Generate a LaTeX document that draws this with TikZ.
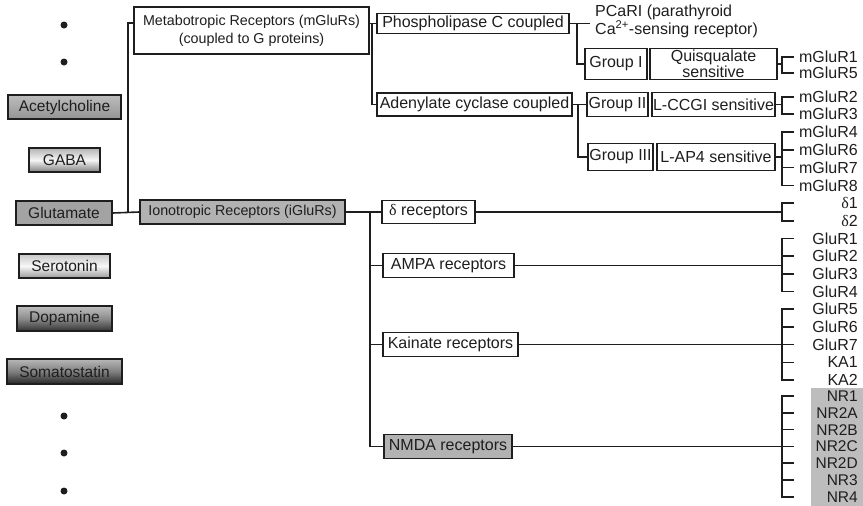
\documentclass[tikz,border=0pt]{standalone}
\usepackage{fontspec}
\setmainfont{Liberation Sans}
\newfontfamily\grk{Liberation Serif}
\definecolor{ink}{HTML}{1E1E1E}
\definecolor{boxgray}{HTML}{B2B2B2}
\definecolor{nrgray}{HTML}{BDBDBD}
\newcommand\rl[3]{\node[rlab] (#1) at (858,#2) {#3}; \coordinate (#1t) at (794,#2);}
\newcommand\rln[3]{\node[nrlab] (#1) at (858,#2) {#3}; \coordinate (#1t) at (794,#2);}
\begin{document}
\begin{tikzpicture}[x=1pt,y=-1pt,
  every node/.style={text=ink},
  conn/.style={draw=ink, line width=1.6pt},
  box/.style={draw=ink, line width=1.3pt, inner sep=0pt, fill=white, font=\fontsize{16}{16}\selectfont},
  nt/.style={box, font=\fontsize{15.5}{16}\selectfont},
  rlab/.style={anchor=east, inner sep=0pt, font=\fontsize{16}{16}\selectfont},
  nrlab/.style={anchor=east, inner sep=0pt, font=\fontsize{15.5}{16}\selectfont},
  dot/.style={circle, fill=ink, inner sep=0pt, minimum size=7pt},
]
\useasboundingbox (0,0) rectangle (863,506);
% dots
\node[dot] (d1) at (64,25) {};
\node[dot] (d2) at (64,62) {};
\node[dot] (d3) at (64,416) {};
\node[dot] (d4) at (64,453) {};
\node[dot] (d5) at (64,491) {};
% neurotransmitters
\node[nt, minimum width=113pt, minimum height=24pt, top color=black!26, bottom color=black!42] (ach) at (64.5,107) {Acetylcholine};
\node[nt, minimum width=71pt, minimum height=24pt, top color=black!30, bottom color=black!50, middle color=black!4] (gaba) at (64.5,160) {GABA};
\node[nt, minimum width=96pt, minimum height=24pt, fill=black!36] (glu) at (64,213) {Glutamate};
\node[nt, minimum width=91pt, minimum height=24pt, top color=black!22, bottom color=black!40, middle color=black!3] (sero) at (64.5,266) {Serotonin};
\node[nt, minimum width=95pt, minimum height=25pt, top color=black!25, bottom color=black!80, middle color=black!45] (dopa) at (64.5,318.5) {Dopamine};
\node[nt, minimum width=115pt, minimum height=25pt, top color=black!28, bottom color=black!85, middle color=black!50] (soma) at (64.5,371.5) {Somatostatin};
% metabotropic branch
\node[box, minimum width=235pt, minimum height=47pt, align=center, font=\fontsize{14.3}{18}\selectfont] (meta) at (251.5,30.5) {Metabotropic Receptors (mGluRs)\\(coupled to G proteins)};
\node[box, minimum width=192pt, minimum height=20pt] (phos) at (473,23.5) {Phospholipase C coupled};
\node[box, minimum width=195pt, minimum height=23pt] (adeny) at (474.5,104.5) {Adenylate cyclase coupled};
\node[anchor=west, inner sep=0pt, align=left, font=\fontsize{16}{14.5}\selectfont] (pcari) at (595,21.5) {PCaRI (parathyroid\\Ca\textsuperscript{2+}-sensing receptor)};
\node[box, minimum width=62pt, minimum height=31pt] (g1) at (616,64) {Group I};
\node[box, minimum width=127pt, minimum height=31pt, align=center, font=\fontsize{16}{14}\selectfont] (quis) at (713.5,64) {Quisqualate\\sensitive};
\node[box, minimum width=61pt, minimum height=24pt] (g2) at (617.5,104.5) {Group II};
\node[box, minimum width=123pt, minimum height=24pt] (lccgi) at (713.5,104.5) {L-CCGI sensitive};
\node[box, minimum width=65pt, minimum height=27pt] (g3) at (620.5,157) {Group III};
\node[box, minimum width=118pt, minimum height=27pt] (lap4) at (716,157) {L-AP4 sensitive};
% ionotropic branch
\node[box, fill=boxgray, minimum width=205pt, minimum height=24pt, font=\fontsize{14.3}{16}\selectfont] (iono) at (242.5,212) {Ionotropic Receptors (iGluRs)};
\node[box, minimum width=93pt, minimum height=23pt] (delta) at (428.5,212) {{\grk δ} receptors};
\node[box, minimum width=131pt, minimum height=24pt] (ampa) at (448.5,265.3) {AMPA receptors};
\node[box, minimum width=135pt, minimum height=24pt] (kain) at (450.5,344.6) {Kainate receptors};
\node[box, fill=boxgray, minimum width=128pt, minimum height=24pt] (nmda) at (448,446.4) {NMDA receptors};
% NMDA subunit background
\fill[nrgray] (811,388) rectangle (863,506);
% right labels
\rl{m1}{57}{mGluR1}
\rl{m5}{73}{mGluR5}
\rl{m2}{97}{mGluR2}
\rl{m3}{114}{mGluR3}
\rl{m4}{132.2}{mGluR4}
\rl{m6}{149.9}{mGluR6}
\rl{m7}{167.6}{mGluR7}
\rl{m8}{185.3}{mGluR8}
\rl{dA}{203}{{\grk δ}1}
\rl{dB}{220.7}{{\grk δ}2}
\rl{gr1}{238.4}{GluR1}
\rl{gr2}{256.1}{GluR2}
\rl{gr3}{273.8}{GluR3}
\rl{gr4}{291.5}{GluR4}
\rl{gr5}{309.2}{GluR5}
\rl{gr6}{326.9}{GluR6}
\rl{gr7}{344.6}{GluR7}
\rl{ka1}{362.3}{KA1}
\rl{ka2}{380}{KA2}
\rln{nr1}{396}{NR1}
\rln{nr2a}{412.8}{NR2A}
\rln{nr2b}{429.6}{NR2B}
\rln{nr2c}{446.4}{NR2C}
\rln{nr2d}{463.2}{NR2D}
\rln{nr3}{480}{NR3}
\rln{nr4}{496.8}{NR4}
% junction coordinates
\coordinate (jL) at (128,212);
\coordinate (jM) at (372,23.5);
\coordinate (jP) at (577,23.5);
\coordinate (pcEnd) at (590,23.5);
\coordinate (jA) at (578,104.5);
\coordinate (jI) at (370,212);
\coordinate (bQ) at (782,64);
\coordinate (bL) at (782,104.5);
\coordinate (b3) at (782,157);
\coordinate (bD) at (782,212);
\coordinate (bAM) at (782,265.3);
\coordinate (bK) at (782,344.6);
\coordinate (bN) at (782,446.4);
% connectors
\draw[conn] (glu.east) -- (iono.west);
\draw[conn] (jL) |- ([yshift=7.5pt]meta.west);
\draw[conn] ([yshift=7pt]meta.east) -- (phos.west);
\draw[conn] (jM) |- (adeny.west);
\draw[conn] (phos.east) -- (pcEnd);
\draw[conn] (jP) |- (g1.west);
\draw[conn] (adeny.east) -- (g2.west);
\draw[conn] (jA) |- (g3.west);
\draw[conn] (quis.east) -- (bQ);
\draw[conn] (m1t) -| (bQ) |- (m5t);
\draw[conn] (lccgi.east) -- (bL);
\draw[conn] (m2t) -| (bL) |- (m3t);
\draw[conn] (lap4.east) -- (b3);
\draw[conn] (m4t) -| (b3) |- (m8t);
\draw[conn] (b3 |- m6t) -- (m6t);
\draw[conn] (b3 |- m7t) -- (m7t);
\draw[conn] (iono.east) -- (delta.west);
\draw[conn] (jI) |- (ampa.west);
\draw[conn] (jI) |- (kain.west);
\draw[conn] (jI) |- (nmda.west);
\draw[conn] (delta.east) -- (bD);
\draw[conn] (dAt) -| (bD) |- (dBt);
\draw[conn] (ampa.east) -- (bAM);
\draw[conn] (gr1t) -| (bAM) |- (gr4t);
\draw[conn] (bAM |- gr2t) -- (gr2t);
\draw[conn] (bAM |- gr3t) -- (gr3t);
\draw[conn] (kain.east) -- (bK);
\draw[conn] (gr5t) -| (bK) |- (ka2t);
\draw[conn] (bK |- gr6t) -- (gr6t);
\draw[conn] (bK |- gr7t) -- (gr7t);
\draw[conn] (bK |- ka1t) -- (ka1t);
\draw[conn] (nmda.east) -- (bN);
\draw[conn] (nr1t) -| (bN) |- (nr4t);
\draw[conn] (bN |- nr2at) -- (nr2at);
\draw[conn] (bN |- nr2bt) -- (nr2bt);
\draw[conn] (bN |- nr2ct) -- (nr2ct);
\draw[conn] (bN |- nr2dt) -- (nr2dt);
\draw[conn] (bN |- nr3t) -- (nr3t);
\end{tikzpicture}
\end{document}
